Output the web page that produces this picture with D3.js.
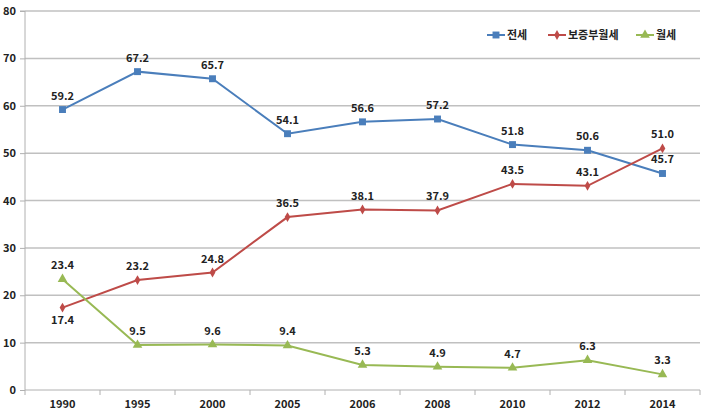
<!DOCTYPE html>
<html><head><meta charset="utf-8">
<script src="https://cdn.jsdelivr.net/npm/d3@7"></script>
<style>
body{margin:0;background:#fff;}
text{font-family:"Noto Sans CJK KR","Noto Sans",sans-serif;font-weight:bold;}
</style></head>
<body><svg id="c" width="709" height="413"></svg>
<script>
const years = ["1990","1995","2000","2005","2006","2008","2010","2012","2014"];
const jeonse = [59.2,67.2,65.7,54.1,56.6,57.2,51.8,50.6,45.7];
const bojeung = [17.4,23.2,24.8,36.5,38.1,37.9,43.5,43.1,51.0];
const wolse = [23.4,9.5,9.6,9.4,5.3,4.9,4.7,6.3,3.3];
const seriesNames = ["전세","보증부월세","월세"];
const yTicks = [0,10,20,30,40,50,60,70,80];

const svg = d3.select("#c");
const L=25,R=700,T=11,B=390;
const x = d3.scaleBand().domain(years).range([L,R]);
const y = d3.scaleLinear().domain([0,80]).range([B,T]);

// gridlines
svg.append("g").selectAll("line").data(yTicks.filter(d=>d>0)).join("line")
  .attr("x1",L).attr("x2",R).attr("y1",d=>y(d)).attr("y2",d=>y(d))
  .attr("stroke","#c0c0c0").attr("stroke-width",1.5);

// y axis
const ya = svg.append("g").attr("transform",`translate(${L},0)`)
  .call(d3.axisLeft(y).tickValues(yTicks).tickSize(5).tickPadding(4));
ya.select(".domain").attr("stroke","#b0b0b0").attr("d",`M-5,${T}H0V${B}`);
ya.selectAll(".tick line").attr("stroke","#b0b0b0");
ya.selectAll("text").attr("font-size",11).attr("fill","#222");

// x axis
const xa = svg.append("g").attr("transform",`translate(0,${B})`)
  .call(d3.axisBottom(x).tickSize(0).tickPadding(10));
xa.select(".domain").attr("stroke","#b0b0b0").attr("d",`M${L},0H${R}`);
xa.selectAll("text").attr("font-size",11).attr("fill","#222");
svg.append("g").selectAll("line").data(years.concat(["end"])).join("line")
  .attr("x1",(d,i)=>L+i*x.step()).attr("x2",(d,i)=>L+i*x.step())
  .attr("y1",B).attr("y2",B+5).attr("stroke","#b0b0b0");

const series = [
  {name:seriesNames[0],vals:jeonse,color:"#4a7ebb",sym:d3.symbolSquare,size:48,below:[]},
  {name:seriesNames[1],vals:bojeung,color:"#be4b48",sym:d3.symbolDiamond,size:28,below:[0]},
  {name:seriesNames[2],vals:wolse,color:"#98b954",sym:d3.symbolTriangle,size:40,below:[]}
];
const line = d3.line().x((d,i)=>x(years[i])+x.bandwidth()/2).y(d=>y(d));
series.forEach(s=>{
  svg.append("path").attr("d",line(s.vals)).attr("fill","none")
    .attr("stroke",s.color).attr("stroke-width",2);
  svg.append("g").selectAll("path").data(s.vals).join("path")
    .attr("d",d3.symbol().type(s.sym).size(s.size))
    .attr("transform",(d,i)=>`translate(${x(years[i])+x.bandwidth()/2},${y(d)})`)
    .attr("fill",s.color);
  svg.append("g").selectAll("text").data(s.vals).join("text")
    .attr("x",(d,i)=>x(years[i])+x.bandwidth()/2)
    .attr("y",(d,i)=>s.below.includes(i)? y(d)+16 : y(d)-10)
    .attr("text-anchor","middle").attr("font-size",11).attr("fill","#222")
    .text(d=>d.toFixed(1));
});

// legend
const legX=[487,548,636];
series.forEach((s,i)=>{
  const g=svg.append("g").attr("transform",`translate(${legX[i]},35)`);
  g.append("line").attr("x1",0).attr("x2",18).attr("stroke",s.color).attr("stroke-width",2);
  g.append("path").attr("d",d3.symbol().type(s.sym).size(s.size)).attr("transform","translate(9,0)").attr("fill",s.color);
  g.append("text").attr("x",20).attr("y",4).attr("font-size",11).attr("fill","#222").text(s.name);
});
</script></body></html>
